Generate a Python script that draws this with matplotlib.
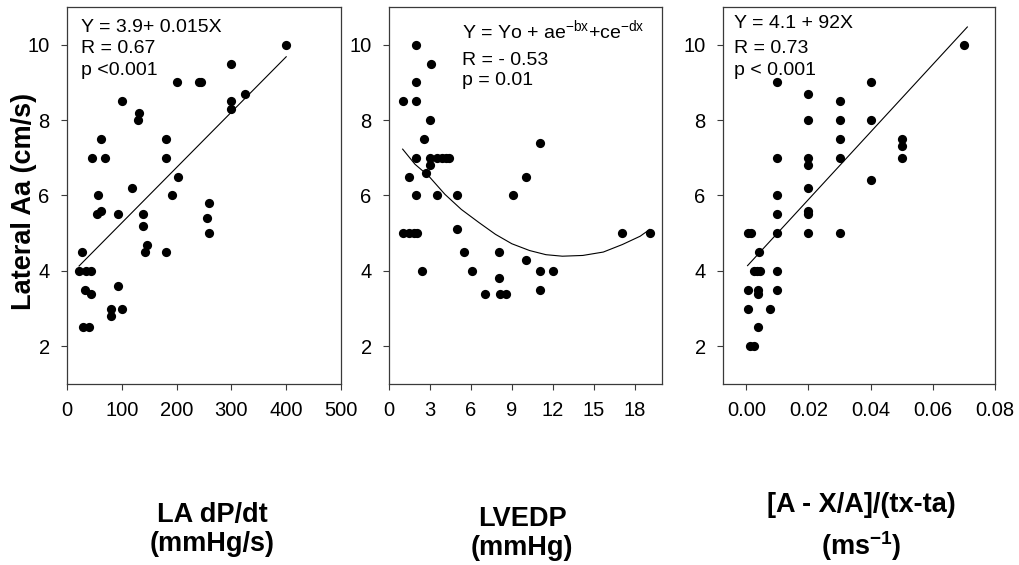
import numpy as np
import matplotlib
matplotlib.use("Agg")
import matplotlib.pyplot as plt

plt.rcParams['font.family'] = ['Liberation Sans', 'DejaVu Sans']
plt.rcParams['mathtext.fontset'] = 'custom'
plt.rcParams['mathtext.rm'] = 'Liberation Sans'
plt.rcParams['mathtext.it'] = 'Liberation Sans'
plt.rcParams['mathtext.bf'] = 'Liberation Sans:bold'

# --- panel 1: LA dP/dt vs lateral Aa ---
dpdt_x = [400, 300, 200, 240, 245, 325, 300, 300, 100, 132, 130, 62, 180, 46, 70, 180,
          203, 118, 56, 191, 260, 54, 62, 93, 139, 139, 255, 260, 146, 143, 180, 27,
          21, 34, 44, 32, 44, 93, 81, 81, 100, 30, 40]
dpdt_y = [10.0, 9.5, 9.0, 9.0, 9.0, 8.7, 8.5, 8.3, 8.5, 8.2, 8.0, 7.5, 7.5, 7.0, 7.0, 7.0,
          6.5, 6.2, 6.0, 6.0, 5.8, 5.5, 5.6, 5.5, 5.5, 5.2, 5.4, 5.0, 4.7, 4.5, 4.5, 4.5,
          4.0, 4.0, 4.0, 3.5, 3.4, 3.6, 3.0, 2.8, 3.0, 2.5, 2.5]
dpdt_fit_x = [22, 400]
dpdt_fit_y = [4.13, 9.68]

# --- panel 2: LVEDP vs lateral Aa ---
lvedp_x = [2.0, 3.05, 2.0, 1.0, 2.0, 3.0, 2.6, 11.05, 2.0, 3.0, 3.5, 3.85, 4.2, 4.4,
           3.0, 2.7, 1.5, 10.05, 2.0, 3.55, 5.0, 9.05, 1.0, 1.5, 1.8, 2.05, 5.0,
           17.1, 19.1, 5.5, 8.05, 10.05, 2.4, 6.05, 11.05, 12.05, 8.05, 11.05,
           7.0, 8.1, 8.55]
lvedp_y = [10.0, 9.5, 9.0, 8.5, 8.5, 8.0, 7.5, 7.4, 7.0, 7.0, 7.0, 7.0, 7.0, 7.0,
           6.8, 6.6, 6.5, 6.5, 6.0, 6.0, 6.0, 6.0, 5.0, 5.0, 5.0, 5.0, 5.1,
           5.0, 5.0, 4.5, 4.5, 4.3, 4.0, 4.0, 4.0, 4.0, 3.8, 3.5,
           3.4, 3.4, 3.4]
lvedp_fit_x = [1.0, 1.9, 2.9, 4.1, 5.3, 6.6, 7.8, 9.0, 10.3, 11.5, 12.7, 14.2, 15.7, 17.1, 18.4, 19.1]
lvedp_fit_y = [7.23, 6.83, 6.52, 6.03, 5.63, 5.28, 4.97, 4.72, 4.54, 4.43, 4.39, 4.41, 4.50, 4.70, 4.92, 5.10]

# --- panel 3: [A - X/A]/(tx-ta) vs lateral Aa ---
rate_x = [0.070, 0.010, 0.040, 0.020, 0.030, 0.020, 0.030, 0.040, 0.030, 0.050, 0.050,
          0.050, 0.010, 0.020, 0.030, 0.020, 0.040, 0.020, 0.010, 0.020, 0.020, 0.010,
          0.0005, 0.0014, 0.010, 0.020, 0.030, 0.0041, 0.0025, 0.0034, 0.0043, 0.010,
          0.0007, 0.0038, 0.0037, 0.010, 0.0005, 0.0076, 0.0037, 0.0013, 0.0025]
rate_y = [10.0, 9.0, 9.0, 8.7, 8.5, 8.0, 8.0, 8.0, 7.5, 7.5, 7.3,
          7.0, 7.0, 7.0, 7.0, 6.8, 6.4, 6.2, 6.0, 5.6, 5.5, 5.5,
          5.0, 5.0, 5.0, 5.0, 5.0, 4.5, 4.0, 4.0, 4.0, 4.0,
          3.5, 3.5, 3.4, 3.5, 3.0, 3.0, 2.5, 2.0, 2.0]
rate_fit_x = [0.0004, 0.0711]
rate_fit_y = [4.14, 10.47]

y_ticks = [2, 4, 6, 8, 10]
panels = [
    dict(x=dpdt_x, y=dpdt_y, fx=dpdt_fit_x, fy=dpdt_fit_y,
         xlim=(0, 500), xticks=[0, 100, 200, 300, 400, 500], fmt="{:.0f}",
         left=67, right=341,
         notes=["Y = 3.9+ 0.015X", "R = 0.67", "p <0.001"],
         note_x=0.05, note_y=[0.934, 0.877, 0.820]),
    dict(x=lvedp_x, y=lvedp_y, fx=lvedp_fit_x, fy=lvedp_fit_y,
         xlim=(0, 20), xticks=[0, 3, 6, 9, 12, 15, 18], fmt="{:.0f}",
         left=389, right=662,
         notes=[r"Y = Yo + ae$^{\mathrm{-bx}}$+ce$^{\mathrm{-dx}}$", "R = - 0.53", "p = 0.01"],
         note_x=0.266, note_y=[0.918, 0.845, 0.792]),
    dict(x=rate_x, y=rate_y, fx=rate_fit_x, fy=rate_fit_y,
         xlim=(-0.0075, 0.08), xticks=[0.0, 0.02, 0.04, 0.06, 0.08], fmt="{:.2f}",
         left=723, right=995,
         notes=["Y = 4.1 + 92X", "R = 0.73", "p < 0.001"],
         note_x=0.042, note_y=[0.943, 0.877, 0.819]),
]

W, H = 1020, 565
fig = plt.figure(figsize=(W / 100, H / 100), dpi=100)
top_px, bot_px = 7, 384
spine_col = "#3a3a3a"

for p in panels:
    ax = fig.add_axes([p["left"] / W, 1 - bot_px / H, (p["right"] - p["left"]) / W, (bot_px - top_px) / H])
    ax.scatter(p["x"], p["y"], s=44, color="black", linewidths=0, zorder=3)
    ax.plot(p["fx"], p["fy"], color="black", lw=0.8, zorder=2)
    ax.set_xlim(*p["xlim"])
    ax.set_ylim(1, 11)
    ax.set_xticks(p["xticks"])
    ax.set_xticklabels([p["fmt"].format(v) for v in p["xticks"]])
    ax.set_yticks(y_ticks)
    ax.tick_params(direction="out", length=4.5, width=0.8, color=spine_col,
                   labelsize=14.5, pad=8)
    for s in ax.spines.values():
        s.set_color(spine_col)
        s.set_linewidth(0.9)
    for txt, yy in zip(p["notes"], p["note_y"]):
        ax.text(p["note_x"], yy, txt, transform=ax.transAxes, fontsize=14,
                ha="left", va="baseline")

fig.text(24 / W, 1 - 201 / H, "Lateral Aa (cm/s)", rotation=90, fontsize=19.5,
         fontweight="bold", ha="center", va="center")

xlabels = [
    ("LA dP/dt", "(mmHg/s)", 212, 522, 551),
    ("LVEDP", "(mmHg)", 522, 526, 555),
    ("[A - X/A]/(tx-ta)", r"(ms$^{\mathbf{-1}}$)", 861, 512, 555),
]
for l1, l2, cx, b1, b2 in xlabels:
    fig.text(cx / W, 1 - b1 / H, l1, fontsize=19.5, fontweight="bold", ha="center", va="baseline")
    fig.text(cx / W, 1 - b2 / H, l2, fontsize=19.5, fontweight="bold", ha="center", va="baseline")

fig.savefig("out.png", dpi=100)
